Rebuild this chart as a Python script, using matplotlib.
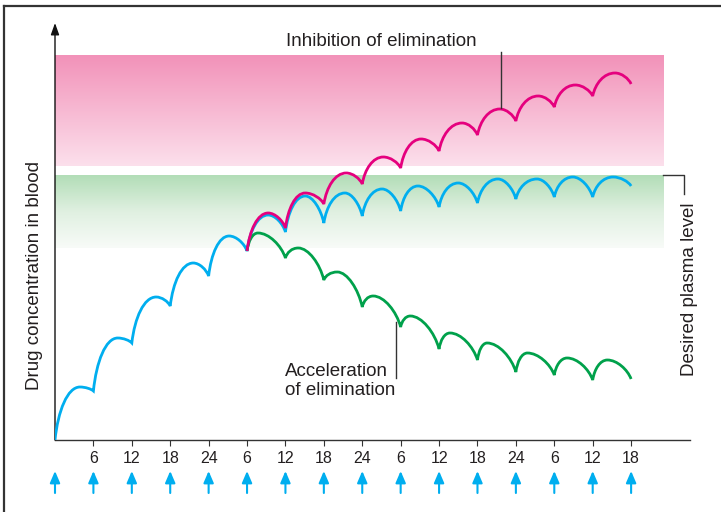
import numpy as np
import matplotlib
matplotlib.use("Agg")
import matplotlib.pyplot as plt
from matplotlib.path import Path
from matplotlib.patches import PathPatch
from matplotlib.lines import Line2D
from matplotlib.colors import LinearSegmentedColormap

plt.rcParams['font.family'] = ['Liberation Sans', 'DejaVu Sans']

# dose every 6 h, time axis in hours
dose_times = np.arange(0, 96, 6)          # 0 .. 90
tick_labels = ['6', '12', '18', '24'] * 3 + ['6', '12', '18']

# normal elimination (blue): peak time/value per interval, trough at next dose
blue_peak_t = [3.9, 9.8, 15.8, 21.6, 27.2, 33.3, 39.1, 45.3, 51.1, 56.7, 63.0, 69.2, 75.3, 80.9, 87.2]
blue_peak_c = [5.3, 10.2, 14.3, 17.7, 20.4, 22.5, 24.4, 24.7, 25.1, 25.4, 25.7, 26.1, 26.1, 26.3, 26.3]
blue_trough_c = [0.0, 4.9, 9.7, 13.4, 16.4, 18.9, 20.8, 21.7, 22.4, 22.9, 23.3, 23.7, 24.1, 24.3, 24.3, 25.4]

# inhibition of elimination (pink), starts at dose 5
pink_peak_t = [33.3, 39.1, 45.5, 51.3, 57.2, 63.6, 69.5, 75.5, 81.3, 87.5]
pink_peak_c = [22.7, 24.7, 26.7, 28.3, 30.1, 31.7, 33.1, 34.4, 35.5, 36.7]
pink_trough_c = [18.9, 21.2, 23.6, 25.6, 27.2, 28.9, 30.5, 31.9, 33.3, 34.4, 35.6]

# acceleration of elimination (green), starts at dose 5
green_peak_t = [31.7, 38.0, 44.1, 49.7, 55.5, 61.7, 67.5, 73.8, 80.0, 86.3]
green_peak_c = [20.7, 19.2, 16.8, 14.4, 12.4, 10.7, 9.7, 8.7, 8.2, 8.0]
green_trough_c = [18.9, 18.2, 16.0, 13.3, 11.3, 9.1, 8.0, 6.8, 6.5, 6.0, 6.1]

BLUE = '#00AEEF'
PINK = '#E5007E'
GREEN = '#00A14B'
DARK = '#333333'


def dose_curve(t_start, peak_t, peak_c, trough_c):
    verts = [(t_start, trough_c[0])]
    codes = [Path.MOVETO]
    for i, (tp, cp) in enumerate(zip(peak_t, peak_c)):
        t0, c0 = t_start + 6 * i, trough_c[i]
        t1, c1 = t0 + 6, trough_c[i + 1]
        dt, dc = tp - t0, cp - c0
        verts += [(t0 + 0.12 * dt, c0 + 0.55 * dc), (tp - 0.5 * dt, cp), (tp, cp)]
        dt2, dc2 = t1 - tp, cp - c1
        verts += [(tp + 0.4 * dt2, cp), (t1 - 0.15 * dt2, c1 + 0.5 * dc2), (t1, c1)]
        codes += [Path.CURVE4] * 6
    return Path(verts, codes)


fig = plt.figure(figsize=(7.21, 5.12), dpi=100)
ax = fig.add_axes([55 / 721, 72 / 512, 635 / 721, 420 / 512])
for s in ['top', 'right', 'left']:
    ax.spines[s].set_visible(False)
ax.spines['bottom'].set_color(DARK)
ax.spines['bottom'].set_linewidth(1.0)
ax.set_yticks([])
ax.set_xticks(dose_times[1:])
ax.set_xticklabels(tick_labels, fontsize=11.5, color='#231F20')
ax.tick_params(axis='x', direction='out', length=4.5, width=0.8, color=DARK, pad=3.5)

# bands
pink_cmap = LinearSegmentedColormap.from_list('pk', ['#FCE0EC', '#F292B9'])
green_cmap = LinearSegmentedColormap.from_list('gr', ['#F8FBF8', '#E0F0E1', '#B2DDB7'])
grad = np.linspace(0, 1, 256).reshape(-1, 1)
ax.imshow(grad, cmap=pink_cmap, origin='lower', aspect='auto',
          extent=(0, 95.0, 27.4, 38.5), zorder=0)
ax.imshow(grad, cmap=green_cmap, origin='lower', aspect='auto',
          extent=(0, 95.0, 19.2, 26.5), zorder=0)
ax.set_xlim(0, 99.2)
ax.set_ylim(0, 42)

# y axis with arrow
ax.annotate('', xy=(0, 41.7), xytext=(0, 0), annotation_clip=False,
            arrowprops=dict(arrowstyle='-|>,head_length=0.7,head_width=0.25',
                            color='#111111', lw=1.0, shrinkA=0, shrinkB=0))

# curves
for pt, pc, tc, col in [(blue_peak_t, blue_peak_c, blue_trough_c, BLUE),
                        (green_peak_t, green_peak_c, green_trough_c, GREEN),
                        (pink_peak_t, pink_peak_c, pink_trough_c, PINK)]:
    t0 = 6 * round((pt[0] - 3) / 6)
    ax.add_patch(PathPatch(dose_curve(t0, pt, pc, tc), fill=False,
                           edgecolor=col, lw=2.0, capstyle='butt', zorder=3))

# dosing arrows below the axis
for t in dose_times:
    ax.annotate('', xy=(t, -3.1), xytext=(t, -5.3), annotation_clip=False,
                arrowprops=dict(arrowstyle='-|>,head_length=0.7,head_width=0.3',
                                color=BLUE, lw=1.5, shrinkA=0, shrinkB=0))

# annotations
fig.text(381 / 721, 1 - 42 / 512, 'Inhibition of elimination', fontsize=13.5,
         ha='center', va='center', color='#231F20')
ax.plot([69.6, 69.6], [33.2, 38.8], color=DARK, lw=1.0, clip_on=False, zorder=4)

fig.text(285 / 721, 1 - 381 / 512, 'Acceleration\nof elimination', fontsize=13.5,
         ha='left', va='center', color='#231F20', linespacing=1.2)
ax.plot([53.3, 53.3], [6.2, 11.8], color=DARK, lw=1.0, clip_on=False, zorder=4)

ax.plot([95.0, 98.3, 98.3], [26.5, 26.5, 24.6], color=DARK, lw=1.0,
        clip_on=False, zorder=4)
fig.text(690 / 721, 1 - 289 / 512, 'Desired plasma level', fontsize=13.5,
         rotation=90, ha='center', va='center', color='#231F20')
fig.text(35 / 721, 1 - 276 / 512, 'Drug concentration in blood', fontsize=13.5,
         rotation=90, ha='center', va='center', color='#231F20')

# frame
fig.add_artist(Line2D([4 / 721, 1], [1 - 6 / 512, 1 - 6 / 512], color=DARK, lw=1.6))
fig.add_artist(Line2D([4 / 721, 4 / 721], [0, 1 - 6 / 512], color=DARK, lw=1.6))

fig.savefig('out.png', dpi=100)
